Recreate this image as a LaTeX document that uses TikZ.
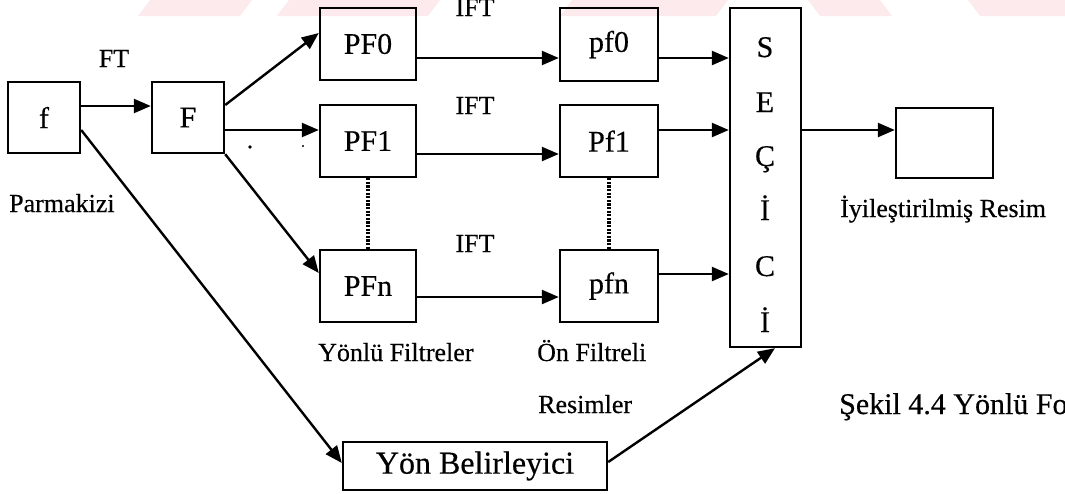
\documentclass[tikz,border=0pt]{standalone}
\usepackage{fontspec}
\setmainfont{Liberation Serif}[FakeBold=0.4]
\usetikzlibrary{arrows.meta,calc}
\definecolor{wmpink}{RGB}{252,234,236}
\begin{document}
\begin{tikzpicture}[x=1pt,y=-1pt,
  blk/.style={draw, line width=2.4pt, rectangle, inner sep=0pt,
              font=\fontsize{30}{36}\selectfont},
  lbl/.style={font=\fontsize{26}{31}\selectfont, inner sep=0pt},
  selchar/.style={font=\fontsize{30}{36}\selectfont, inner sep=0pt, anchor=base},
  arr/.style={line width=2.4pt, -{Triangle[length=17pt,width=14pt]}},
  dotline/.style={line width=3.6pt, dash pattern=on 2.2pt off 1.4pt},
]
\useasboundingbox (0,0) rectangle (1065,493);

% faint band along the top edge
\fill[wmpink] (138,16) -- (150,0) -- (252,0) -- (240,16) -- cycle;
\fill[wmpink] (277,16) -- (289,0) -- (440,0) -- (428,16) -- cycle;
\fill[wmpink] (560,16) -- (572,0) -- (728,0) -- (716,16) -- cycle;
\fill[wmpink] (820,16) -- (808,0) -- (880,0) -- (892,16) -- cycle;
\fill[wmpink] (980,16) -- (968,0) -- (1065,0) -- (1065,16) -- cycle;

% blocks
\node[blk, minimum width=72pt, minimum height=71pt] (f)   at (44,117.5) {f};
\node[blk, minimum width=72pt, minimum height=71pt] (F)   at (188,117.5) {F};
\node[blk, minimum width=96pt, minimum height=72pt] (PF0) at (368,44) {PF0};
\node[blk, minimum width=96pt, minimum height=72pt] (PF1) at (368,141) {PF1};
\node[blk, minimum width=96pt, minimum height=72pt] (PFn) at (368,286) {PFn};
\node[blk, minimum width=98pt, minimum height=73pt] (pf0) at (609,44.5) {pf0};
\node[blk, minimum width=98pt, minimum height=72pt] (Pf1) at (609,141) {Pf1};
\node[blk, minimum width=98pt, minimum height=72pt] (pfn) at (609,286) {pfn};
\node[blk, minimum width=71pt, minimum height=339pt] (sel) at (765.5,177.5) {};
\node[blk, minimum width=97pt, minimum height=70pt] (out) at (944.5,143) {};
\node[blk, minimum width=264pt, minimum height=48pt,
      font=\fontsize{32}{38}\selectfont] (yon) at (475,466) {Yön Belirleyici};

% selector letters
\node[selchar] (s1) at (765,57)  {S};
\node[selchar] (s2) at (765,112) {E};
\node[selchar] (s3) at (765,166) {Ç};
\node[selchar] (s4) at (765,220) {İ};
\node[selchar] (s5) at (765,276) {C};
\node[selchar] (s6) at (765,332) {İ};

% labels
\node[lbl, anchor=base] (ft)   at (114,67)  {FT};
\node[lbl, anchor=base] (ift0) at (475,16)  {IFT};
\node[lbl, anchor=base] (ift1) at (475,114) {IFT};
\node[lbl, anchor=base] (ift2) at (475,252) {IFT};
\node[lbl, anchor=base west] (parm) at (9,212) {Parmakizi};
\node[lbl, anchor=base west] (yf)   at (318,361) {Yönlü Filtreler};
\node[lbl, anchor=base west] (onf)  at (537,361) {Ön Filtreli};
\node[lbl, anchor=base west] (res)  at (538,413) {Resimler};
\node[lbl, anchor=base west] (iyi)  at (840,217) {İyileştirilmiş Resim};
\node[anchor=base west, inner sep=0pt, font=\fontsize{30}{36}\selectfont] (cap)
  at (839,414) {Şekil 4.4 Yönlü Fo};

% stray specks between F and PF1
\fill (250,147) circle (1.8pt);
\fill (303,146) circle (1.2pt);

% connectors
\coordinate (a1) at ($(f.east)+(0,-11.5)$);
\draw[arr] (a1) -- (a1 -| F.west);
\draw[arr] ($(F.east)+(0,-12.5)$) -- ($(PF0.west)+(0,-11)$);
\coordinate (a3) at ($(F.east)+(0,12.5)$);
\draw[arr] (a3) -- (a3 -| PF1.west);
\draw[arr] (F.south east) -- ($(PFn.west)+(0,-13)$);

\coordinate (b0) at ($(PF0.east)+(0,14)$);
\draw[arr] (b0) -- (b0 -| pf0.west);
\coordinate (b1) at ($(PF1.east)+(0,13)$);
\draw[arr] (b1) -- (b1 -| Pf1.west);
\coordinate (b2) at ($(PFn.east)+(0,11)$);
\draw[arr] (b2) -- (b2 -| pfn.west);

\coordinate (c0) at ($(pf0.east)+(0,13.5)$);
\draw[arr] (c0) -- (c0 -| sel.west);
\coordinate (c1) at ($(Pf1.east)+(0,-11)$);
\draw[arr] (c1) -- (c1 -| sel.west);
\coordinate (c2) at ($(pfn.east)+(0,-12)$);
\draw[arr] (c2) -- (c2 -| sel.west);

\coordinate (d) at ($(out.west)+(0,-13)$);
\draw[arr] (d -| sel.east) -- (d);

\draw[arr] ($(f.east)+(0,12.5)$) -- ($(yon.west)+(0,-3)$);
\draw[arr] ($(yon.east)+(0,-4)$) -- ($(sel.south)+(9.5,0)$);

\draw[dotline] (PF1.south) -- (PFn.north);
\draw[dotline] (Pf1.south) -- (pfn.north);
\end{tikzpicture}
\end{document}
